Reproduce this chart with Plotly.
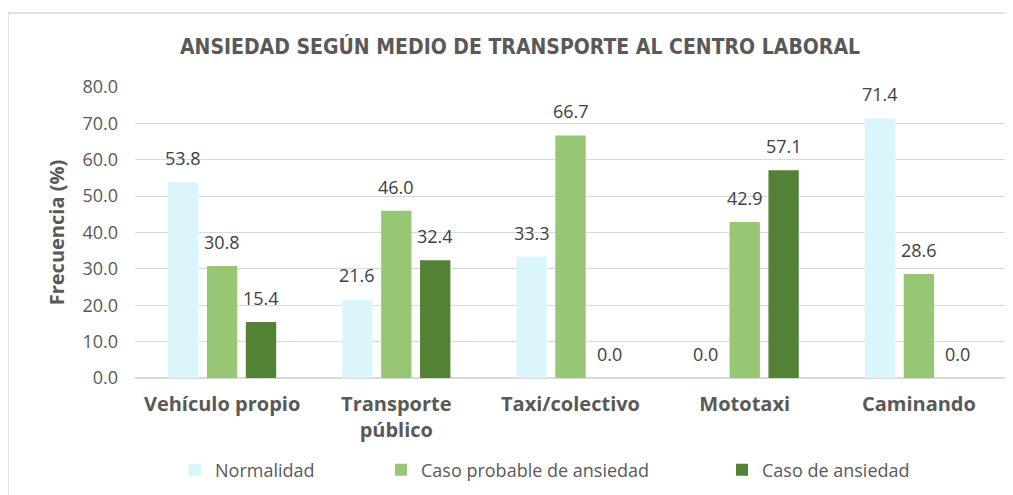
import plotly.graph_objects as go

# Data
medios = ["Vehículo propio", "Transporte<br>público", "Taxi/colectivo", "Mototaxi", "Caminando"]
normalidad = [53.8, 21.6, 33.3, 0.0, 71.4]
caso_probable = [30.8, 46.0, 66.7, 42.9, 28.6]
caso_ansiedad = [15.4, 32.4, 0.0, 57.1, 0.0]
y_ticks = [0, 10, 20, 30, 40, 50, 60, 70, 80]

series = [
    ("Normalidad", normalidad, "#DAF6FC", "legend"),
    ("Caso probable de ansiedad", caso_probable, "#97C675", "legend2"),
    ("Caso de ansiedad", caso_ansiedad, "#548235", "legend3"),
]

FONT = "Open Sans"
GREY = "#595959"

# page body has an 8px margin, so the figure is drawn 8px smaller / shifted
W, H = 1005, 487
plot_l, plot_r, plot_t, plot_b = 127, 7, 79, 117
pw = W - plot_l - plot_r
ph = H - plot_t - plot_b


def px_x(x):
    return (x - plot_l) / pw


def px_y(y):
    return (H - plot_b - y) / ph


fig = go.Figure()
annotations = []
shifts = [-39, 0, 39]
for (name, vals, color, leg), dx in zip(series, shifts):
    fig.add_trace(go.Bar(
        x=medios,
        y=vals,
        name=name,
        marker=dict(color=color, line=dict(width=0)),
        legend=leg,
    ))
    for cat, v in zip(medios, vals):
        annotations.append(dict(
            x=cat, y=v, xref="x", yref="y",
            text=f"{v:.1f}", showarrow=False,
            xanchor="center", yanchor="bottom",
            xshift=dx, yshift=10,
            font=dict(family=FONT, size=18, color="#404040"),
        ))

legend_common = dict(
    orientation="h",
    yanchor="middle",
    xanchor="left",
    y=px_y(462),
    font=dict(family=FONT, size=18, color=GREY),
    bgcolor="rgba(0,0,0,0)",
)

fig.update_layout(
    width=W,
    height=H,
    margin=dict(l=plot_l, r=plot_r, t=plot_t, b=plot_b, autoexpand=False),
    paper_bgcolor="white",
    plot_bgcolor="white",
    showlegend=True,
    barmode="group",
    bargap=0.33,
    bargroupgap=0.22,
    title=dict(
        text="<b>ANSIEDAD SEGÚN MEDIO DE TRANSPORTE AL CENTRO LABORAL</b>",
        x=512 / W,
        xanchor="center",
        y=1 - 39 / H,
        yanchor="middle",
        font=dict(family="DejaVu Sans Condensed", size=21, color=GREY),
    ),
    yaxis=dict(
        range=[0, 80],
        tickvals=y_ticks,
        tickformat=".1f",
        tickfont=dict(family=FONT, size=18, color=GREY),
        ticklabelstandoff=16,
        gridcolor="#D9D9D9",
        gridwidth=1,
        zeroline=True,
        zerolinecolor="#D9D9D9",
        zerolinewidth=1.5,
        showline=False,
        ticks="",
        title=dict(text="<b>Frecuencia (%)</b>", font=dict(family=FONT, size=20, color=GREY), standoff=12),
    ),
    xaxis=dict(
        tickfont=dict(family=FONT, size=20, color=GREY),
        ticklabelstandoff=12,
        showline=False,
        ticks="",
        tickprefix="<b>",
        ticksuffix="</b>",
    ),
    legend=dict(legend_common, x=px_x(167)),
    legend2=dict(legend_common, x=px_x(373)),
    legend3=dict(legend_common, x=px_x(714)),
    annotations=annotations,
    shapes=[dict(
        type="rect", xref="paper", yref="paper",
        x0=px_x(0), x1=px_x(1010), y0=px_y(500), y1=px_y(5),
        line=dict(color="#D9D9D9", width=1.5), fillcolor="rgba(0,0,0,0)",
        layer="below",
    )],
)

fig.write_html("out.html")
